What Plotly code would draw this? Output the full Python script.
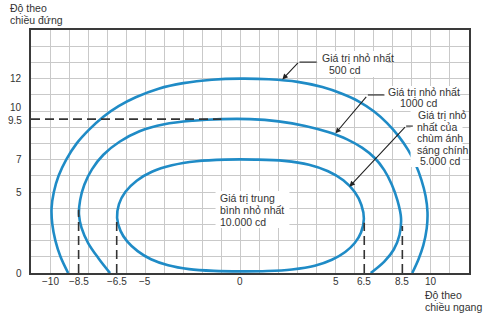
import plotly.graph_objects as go

# ---- data ----
outer_x = [-9.05, -9.45, -9.72, -9.88, -9.92, -9.8, -9.55, -9.15, -8.6, -7.95, -7.2, -6.4, -5.5,
           -4.3, -3.0, -1.5, 0.0, 1.5, 3.0, 4.3, 5.3, 6.2, 7.0, 7.7, 8.3, 8.8, 9.2, 9.5,
           9.72, 9.82, 9.78, 9.6, 9.35, 9.02]
outer_y = [0.0, 1.0, 2.0, 3.0, 4.0, 5.0, 6.0, 7.0, 8.0, 8.85, 9.65, 10.3, 10.85,
           11.38, 11.72, 11.93, 12.0, 11.96, 11.8, 11.48, 11.08, 10.6, 9.98, 9.25, 8.45, 7.6, 6.7, 5.75,
           4.75, 3.75, 2.75, 1.7, 0.85, 0.0]

middle_x = [-6.85, -7.45, -8.0, -8.35, -8.48, -8.42, -8.2, -7.8, -7.2, -6.35, -5.3, -4.0, -2.5,
            -1.0, 0.5, 2.0, 3.4, 4.6, 5.6, 6.4, 7.05, 7.55, 7.95, 8.25, 8.43, 8.35, 8.05, 7.55, 6.84]
middle_y = [0.0, 0.9, 1.85, 2.8, 3.6, 4.5, 5.45, 6.4, 7.3, 8.1, 8.75, 9.18, 9.4,
            9.5, 9.5, 9.36, 9.08, 8.7, 8.25, 7.72, 7.1, 6.35, 5.45, 4.45, 3.4, 2.35, 1.45, 0.7, 0.0]

inner_x = [0.0, -1.4, -2.7, -3.8, -4.7, -5.4, -5.95, -6.3, -6.48, -6.38, -6.05, -5.45, -4.65,
           -3.6, -2.3, -0.8, 0.8, 2.3, 3.6, 4.6, 5.4, 6.0, 6.35, 6.48, 6.33, 6.0, 5.5, 4.8,
           3.9, 2.7, 1.4, 0.0]
inner_y = [0.1, 0.13, 0.24, 0.48, 0.85, 1.35, 1.95, 2.6, 3.4, 4.25, 5.0, 5.7, 6.25,
           6.65, 6.9, 7.0, 7.0, 6.92, 6.68, 6.28, 5.72, 5.0, 4.2, 3.35, 2.5, 1.85, 1.3, 0.82,
           0.45, 0.22, 0.12, 0.1]

x_tick_vals = [-10, -8.5, -6.5, -5, 0, 5, 6.5, 8.5, 10]
x_tick_text = ["\u221210", "\u22128.5", "\u22126.5", "\u22125", "0", "5", "6.5", "8.5", "10"]
y_tick_vals = [0, 5, 7, 9.5, 10, 12]
y_tick_text = ["0", "5", "7", "9.5", "10", "12"]

guide_v_x = [-8.5, -6.5, 6.5, 8.5]
guide_v_top = [3.9, 3.3, 3.1, 2.9]
guide_h_y = 9.5
guide_h_end = -1.0

label_500 = ["Giá trị nhỏ nhất", "500 cd"]
label_1000 = ["Giá trị nhỏ nhất", "1000 cd"]
label_5000 = ["Giá trị nhỏ", "nhất của", "chùm ánh", "sáng chính", "5.000 cd"]
label_10000 = ["Giá trị trung", "bình nhỏ nhất", "10.000 cd"]
title_y = ["Độ theo", "chiều đứng"]
title_x = ["Độ theo", "chiều ngang"]

X_MIN, X_MAX, Y_MIN, Y_MAX = -11, 12, 0, 15

BLUE = "#1f8bc6"
DARK = "#333333"
FONT = "Liberation Sans, Arial, sans-serif"

fig = go.Figure()

for xs, ys in [(outer_x, outer_y), (middle_x, middle_y), (inner_x, inner_y)]:
    fig.add_trace(go.Scatter(x=xs, y=ys, mode="lines",
                             line=dict(color=BLUE, width=2.6, shape="spline", smoothing=1.0),
                             hoverinfo="skip", showlegend=False))

# dashed guides
for gx, gt in zip(guide_v_x, guide_v_top):
    fig.add_trace(go.Scatter(x=[gx, gx], y=[0, gt], mode="lines",
                             line=dict(color=DARK, width=1.6, dash="9px,5px"),
                             hoverinfo="skip", showlegend=False))
fig.add_trace(go.Scatter(x=[X_MIN, guide_h_end], y=[guide_h_y, guide_h_y], mode="lines",
                         line=dict(color=DARK, width=1.6, dash="9px,5px"),
                         hoverinfo="skip", showlegend=False))

ann = []
tick_font = dict(family=FONT, size=10, color=DARK)
for v, t in zip(x_tick_vals, x_tick_text):
    ann.append(dict(x=v, y=0, xref="x", yref="y", text=t, showarrow=False,
                    yanchor="top", yshift=-1, font=tick_font))
y_shift = {10: 4, 9.5: -1}
for v, t in zip(y_tick_vals, y_tick_text):
    ann.append(dict(x=X_MIN, y=v, xref="x", yref="y", text=t, showarrow=False,
                    xanchor="right", xshift=-7, yshift=y_shift.get(v, 0), font=tick_font))

lab_font = dict(family=FONT, size=10.5, color=DARK)


def add_lines(lines, x, y, spacing, xref="x", yref="y", xshifts=None):
    for i, t in enumerate(lines):
        ann.append(dict(x=x, y=y, xref=xref, yref=yref, xanchor="left", yanchor="middle",
                        text=t, showarrow=False, font=lab_font, yshift=-i * spacing,
                        xshift=(xshifts[i] if xshifts else 0)))


# axis names
add_lines(title_y, -0.053, 1.09, 12, xref="paper", yref="paper")
add_lines(title_x, 0.895, -0.092, 12, xref="paper", yref="paper")

# Y / X arrows
ann.append(dict(x=-11.27, y=15.0, xref="x", yref="y", ax=0, ay=21, text="", showarrow=True,
                arrowhead=2, arrowsize=1, arrowwidth=1.3, arrowcolor=DARK))
ann.append(dict(x=-11.7, y=14.45, xref="x", yref="y", text="Y", showarrow=False, font=tick_font))
ann.append(dict(x=11.88, y=-0.27, xref="x", yref="y", ax=-27, ay=0, text="", showarrow=True,
                arrowhead=2, arrowsize=1, arrowwidth=1.3, arrowcolor=DARK))
ann.append(dict(x=11.62, y=-0.9, xref="x", yref="y", text="X", showarrow=False, font=tick_font))

# callout arrows
ann.append(dict(x=2.2, y=11.95, xref="x", yref="y", ax=17, ay=-18, text="", showarrow=True,
                arrowhead=2, arrowsize=1, arrowwidth=1.1, arrowcolor="#222"))
ann.append(dict(x=4.99, y=8.62, xref="x", yref="y", ax=32, ay=-38, text="", showarrow=True,
                arrowhead=2, arrowsize=1, arrowwidth=1.1, arrowcolor="#222"))
ann.append(dict(x=5.72, y=5.33, xref="x", yref="y", ax=57, ay=-61, text="", showarrow=True,
                arrowhead=2, arrowsize=1, arrowwidth=1.1, arrowcolor="#222"))

# callout texts
add_lines(label_500, 4.2, 13.27, 12, xshifts=[0, 7])
add_lines(label_1000, 7.62, 11.17, 10.5, xshifts=[0, 12])
add_lines(label_5000, 9.18, 9.75, 11.5, xshifts=[1, 0, 0, 0, 3])
add_lines(label_10000, -1.17, 4.63, 11.8)

white_boxes = [  # x0, x1, y0, y1 behind each text block
    (4.04, 7.72, 12.1, 13.7),
    (7.51, 11.25, 10.12, 11.54),
    (8.93, 11.66, 6.54, 10.19),
    (-1.31, 2.57, 2.78, 5.06),
]
shapes = [dict(type="rect", xref="x", yref="y", x0=a, x1=b, y0=c, y1=d,
               fillcolor="white", line=dict(width=0), layer="above") for a, b, c, d in white_boxes]
shapes += [
    dict(type="line", xref="x", yref="y", x0=3.1, x1=4.0, y0=13.02, y1=13.02,
         line=dict(color="#222", width=1.1)),
    dict(type="line", xref="x", yref="y", x0=6.69, x1=7.56, y0=10.99, y1=10.99,
         line=dict(color="#222", width=1.1)),
    dict(type="line", xref="x", yref="y", x0=8.7, x1=9.05, y0=9.07, y1=9.07,
         line=dict(color="#222", width=1.1)),
]

axis_common = dict(showgrid=True, gridcolor="#c9c9c9", gridwidth=1, zeroline=False,
                   showline=True, linecolor="#3a3a3a", linewidth=1.6, mirror=True,
                   showticklabels=False, ticks="", tickmode="linear", dtick=1)
fig.update_layout(
    width=500, height=321,
    margin=dict(l=31, r=31, t=30, b=48),
    paper_bgcolor="white", plot_bgcolor="white",
    xaxis=dict(range=[X_MIN, X_MAX], tick0=0, **axis_common),
    yaxis=dict(range=[Y_MIN, Y_MAX], tick0=0, **axis_common),
    annotations=ann, shapes=shapes,
    showlegend=False,
)

fig.write_html("out.html")
